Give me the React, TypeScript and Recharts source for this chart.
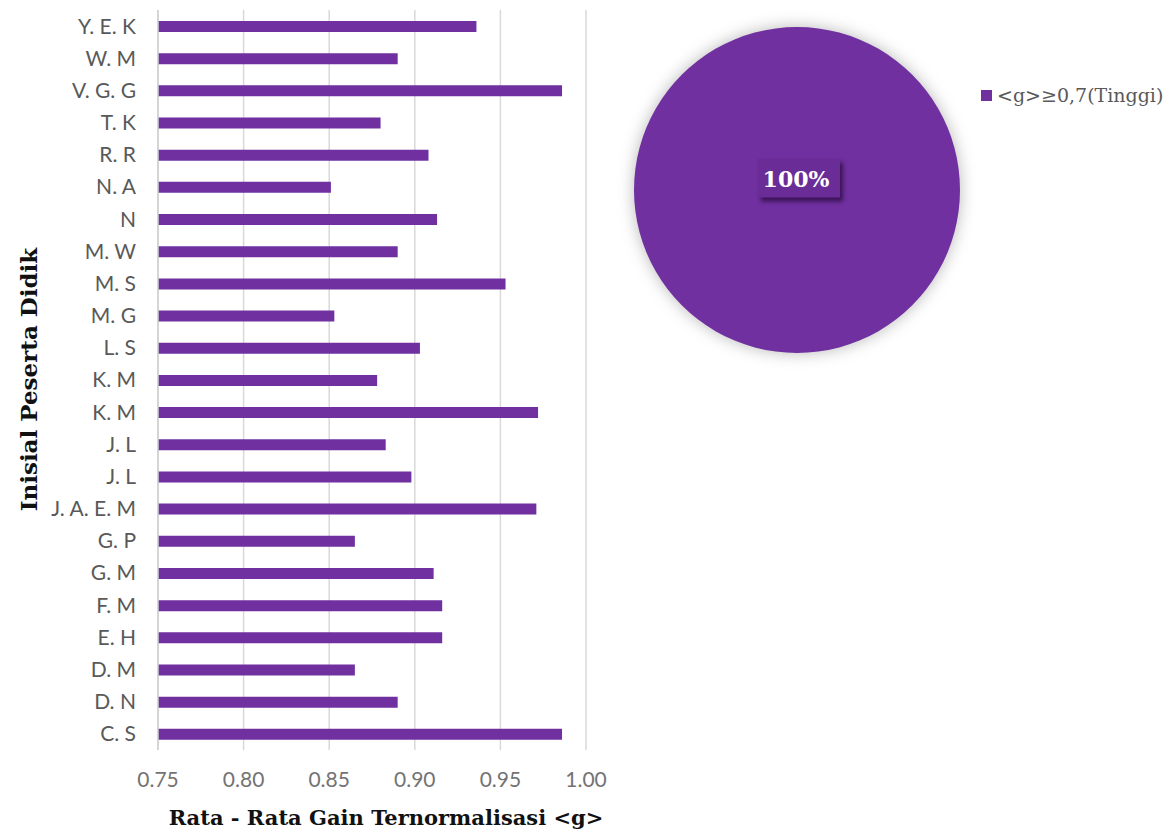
import React from 'react'
import {
  BarChart, Bar, XAxis, YAxis, CartesianGrid, PieChart, Pie, Cell, Legend,
} from 'recharts'

// average normalised gain per student, top row first
const students = [
  'Y. E. K', 'W. M', 'V. G. G', 'T. K', 'R. R', 'N. A', 'N', 'M. W', 'M. S', 'M. G',
  'L. S', 'K. M', 'K. M', 'J. L', 'J. L', 'J. A. E. M', 'G. P', 'G. M', 'F. M', 'E. H',
  'D. M', 'D. N', 'C. S',
]
const gains = [
  0.936, 0.890, 0.986, 0.880, 0.908, 0.851, 0.913, 0.890, 0.953, 0.853,
  0.903, 0.878, 0.972, 0.883, 0.898, 0.971, 0.865, 0.911, 0.916, 0.916,
  0.865, 0.890, 0.986,
]
const gainTicks = [0.75, 0.8, 0.85, 0.9, 0.95, 1.0]

// share of students per gain category
const gainCategories = ['<g>≥0,7(Tinggi)']
const categoryShares = [100]

const PURPLE = '#7030A0'
const SANS = 'Lato, "Open Sans", sans-serif'
const SERIF = '"DejaVu Serif", serif'

const barData = students.map((name, i) => ({ id: i, name, gain: gains[i] }))
const pieData = gainCategories.map((name, i) => ({ name, value: categoryShares[i] }))

function PercentLabel(props: any) {
  const { cx, cy, percent } = props
  const text = `${Math.round(percent * 100)}%`
  const w = 82
  const h = 39
  const x = cx + 2 - w / 2
  const y = cy - 12 - h / 2
  return (
    <g>
      <rect
        x={x} y={y} width={w} height={h} fill="#6a2d98"
        style={{ filter: 'drop-shadow(3px 4px 2px rgba(40,10,60,0.75))' }}
      />
      <text
        x={cx - 1} y={cy - 11} textAnchor="middle" dominantBaseline="central"
        fill="#fff" fontFamily={SERIF} fontWeight="bold" fontSize={22}
      >
        {text}
      </text>
    </g>
  )
}

function CategoryLegend({ payload }: any) {
  return (
    <div>
      {(payload || []).map((p: any) => (
        <div key={p.value} style={{ display: 'flex', alignItems: 'center', gap: 5 }}>
          <div style={{ width: 11, height: 11, background: p.color }} />
          <span style={{ fontFamily: SERIF, fontSize: 19, color: '#595959', whiteSpace: 'nowrap' }}>
            {p.value}
          </span>
        </div>
      ))}
    </div>
  )
}

export default function App() {
  return (
    <div style={{ position: 'absolute', left: 0, top: 0, width: 1173, height: 840, background: '#fff' }}>
      <div style={{ position: 'absolute', left: 0, top: 0 }}>
        <BarChart
          width={620}
          height={840}
          data={barData}
          layout="vertical"
          margin={{ top: 10, right: 34, bottom: 50, left: 20 }}
        >
          <CartesianGrid horizontal={false} stroke="#d9d9d9" strokeWidth={1.5} />
          <XAxis
            type="number"
            domain={[0.75, 1]}
            ticks={gainTicks}
            tickFormatter={(v: number) => v.toFixed(2)}
            axisLine={false}
            tickLine={false}
            tickSize={0}
            tickMargin={22}
            height={40}
            tick={{ fill: '#737373', fontSize: 21, fontFamily: SANS }}
          />
          <YAxis
            type="category"
            dataKey="id"
            width={138}
            tickFormatter={(i: number) => students[i]}
            interval={0}
            axisLine={{ stroke: '#d0d0d0', strokeWidth: 1.5 }}
            tickLine={false}
            tickSize={0}
            tickMargin={22}
            tick={{ fill: '#595959', fontSize: 21, fontFamily: SANS }}
          />
          <Bar dataKey="gain" fill={PURPLE} barSize={11} isAnimationActive={false} />
        </BarChart>
      </div>

      <div
        style={{
          position: 'absolute', left: 0, top: 805, width: 772, textAlign: 'center',
          fontFamily: SERIF, fontWeight: 'bold', fontSize: 21, color: '#111',
        }}
      >
        Rata - Rata Gain Ternormalisasi &lt;g&gt;
      </div>
      <div
        style={{
          position: 'absolute', left: 28 - 200, top: 381 - 15, width: 400, textAlign: 'center',
          transform: 'rotate(-90deg)', fontFamily: SERIF, fontWeight: 'bold', fontSize: 23, color: '#111',
        }}
      >
        Inisial Peserta Didik
      </div>

      <div style={{ position: 'absolute', left: 610, top: 0 }}>
        <PieChart width={563} height={390} margin={{ top: 0, right: 0, bottom: 0, left: 0 }}>
          <Pie
            data={pieData}
            dataKey="value"
            nameKey="name"
            cx={187}
            cy={190}
            outerRadius={163}
            startAngle={90}
            endAngle={-270}
            stroke="none"
            label={PercentLabel}
            labelLine={false}
            isAnimationActive={false}
          >
            {pieData.map((d) => (
              <Cell
                key={d.name}
                fill={PURPLE}
                style={{ filter: 'drop-shadow(0 0 8px rgba(0,0,0,0.28))' }}
              />
            ))}
          </Pie>
          <Legend
            layout="vertical"
            align="right"
            verticalAlign="top"
            content={CategoryLegend}
            wrapperStyle={{ left: 371, top: 84, right: 'auto', width: 'auto' }}
          />
        </PieChart>
      </div>
    </div>
  )
}
